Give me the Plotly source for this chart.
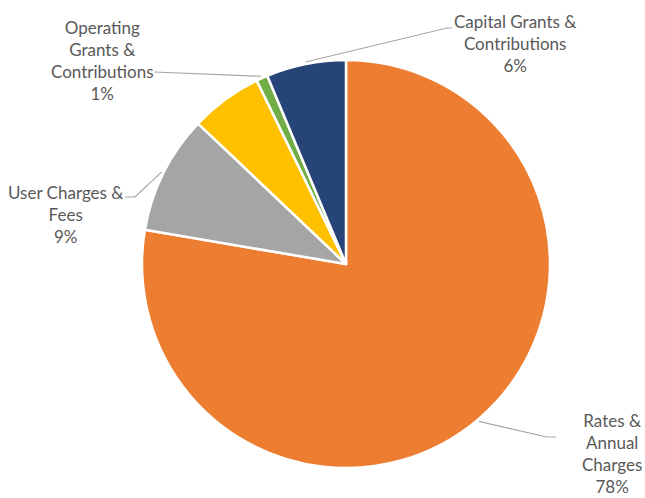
import math
import plotly.graph_objects as go

# ---- data ----
categories = ["Rates & Annual Charges", "User Charges & Fees", "Other Revenue",
              "Operating Grants & Contributions", "Capital Grants & Contributions"]
values = [77.6, 9.4, 5.7, 0.9, 6.3]
colors = ["#ED7D31", "#A5A5A5", "#FFC000", "#70AD47", "#264478"]
label_lines = [["Rates &", "Annual", "Charges"],
               ["User Charges &", "Fees"],
               None,
               ["Operating", "Grants &", "Contributions"],
               ["Capital Grants &", "Contributions"]]

# ---- layout geometry (pixels) ----
W, H = 645, 498
ML, MR, MT, MB = 142, 95, 60, 30
PW, PH = W - ML - MR, H - MT - MB
CX, CY, R = ML + PW / 2, MT + PH / 2, PW / 2

def px(x, y):
    return (x - ML) / PW, 1 - (y - MT) / PH

# label block centres and leader elbows (pixels)
label_pos = [(612, 453), (65, 214), None, (102, 60), (515, 44)]
elbows = [[(547, 437), (556, 437)], [(135, 197), (125, 197)], None,
          [(154, 72)], [(447, 28), (452, 28)]]

fig = go.Figure(go.Pie(
    labels=categories, values=values, sort=False, direction="clockwise",
    rotation=0, marker=dict(colors=colors, line=dict(color="white", width=2.5)),
    textinfo="none", hoverinfo="label+percent", showlegend=False,
))

total = sum(values)
annotations, shapes = [], []
start = 0.0
font = dict(family="Lato, Open Sans, sans-serif", size=17, color="#595959")
for i, v in enumerate(values):
    span = v / total * 360
    mid = start + span / 2
    start += span
    if label_lines[i] is None:
        continue
    pct = f"{round(v / total * 100)}%"
    text = "<br>".join(label_lines[i] + [pct])
    lx, ly = label_pos[i]
    ax, ay = px(lx, ly)
    annotations.append(dict(x=ax, y=ay, xref="paper", yref="paper", text=text,
                            showarrow=False, align="center", font=font,
                            xanchor="center", yanchor="middle"))
    a = math.radians(mid)
    ex, ey = CX + R * 1.01 * math.sin(a), CY - R * 1.01 * math.cos(a)
    pts = [(ex, ey)] + elbows[i]
    path = ""
    for j, (x, y) in enumerate(pts):
        qx, qy = px(x, y)
        path += ("M" if j == 0 else "L") + f"{qx},{qy} "
    shapes.append(dict(type="path", path=path, xref="paper", yref="paper",
                       line=dict(color="#A6A6A6", width=1.2)))

fig.update_layout(width=W, height=H, margin=dict(l=ML, r=MR, t=MT, b=MB),
                  paper_bgcolor="white", plot_bgcolor="white",
                  annotations=annotations, shapes=shapes)
fig.write_html("out.html", config={"displayModeBar": False},
               post_script="document.body.style.margin='0';")
